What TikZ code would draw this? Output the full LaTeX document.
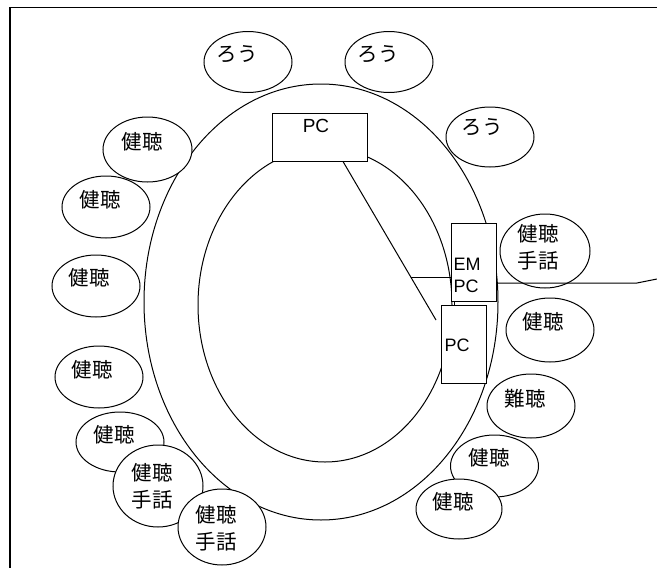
\documentclass[tikz,border=0pt]{standalone}
\usepackage{fontspec}
\setmainfont{Liberation Sans}
\newfontfamily\cjk{Noto Sans CJK JP}
\usetikzlibrary{calc}
\begin{document}
\begin{tikzpicture}[x=1pt,y=-1pt,line width=1pt,
  box/.style={draw,fill=white,rectangle,inner sep=0pt},
  jp/.style={font=\cjk\fontsize{20.5}{27}\selectfont,inner sep=0pt,align=center},
  en/.style={font=\fontsize{19}{24}\selectfont,inner sep=0pt},
  person/.style={draw,fill=white}]
\useasboundingbox (0,0) rectangle (657,568);
\fill[white] (0,0) rectangle (657,568);
% frame
\draw[line width=1.3pt] (10,568) -- (10,7.5) -- (657,7.5);
% table rings
\draw (321,302) ellipse [x radius=177pt, y radius=218pt];
\draw (325,305) ellipse [x radius=127pt, y radius=157pt];
% computers
\node[box,minimum width=95pt,minimum height=48pt] (pc1) at (319.5,137) {};
\node[en] (pc1t) at (316,125.5) {PC};
\node[box,minimum width=45pt,minimum height=78pt] (empc) at (473.5,262) {};
\node[en,anchor=west,font=\fontsize{18}{24}\selectfont] (emt) at (453,264) {EM};
\node[en,anchor=west,font=\fontsize{18}{24}\selectfont] (empct) at (453,286) {PC};
\node[box,minimum width=45pt,minimum height=78pt] (pc2) at (463.5,344) {};
\node[en,font=\fontsize{18}{24}\selectfont] (pc2t) at (457,345) {PC};
% cables
\coordinate (dtop) at ([xshift=23.5pt]pc1.south);
\coordinate (dend) at (436,320);
\coordinate (dmid) at ($(dtop)!0.7296!(dend)$);
\draw (dtop) -- (dend);
\draw (dmid) -- (dmid -| empc.west);
\draw ([xshift=-19.5pt]empc.south) -- ([xshift=-9.5pt]pc2.north);
% people
\draw[person] (248,62) ellipse [x radius=44pt, y radius=30.5pt];
\node[jp] (r1) at (237,54) {ろう};
\draw[person] (389,62) ellipse [x radius=44pt, y radius=30.5pt];
\node[jp] (r2) at (378,54) {ろう};
\draw[person] (490,137) ellipse [x radius=44pt, y radius=30pt];
\node[jp] (r3) at (482,127) {ろう};
\draw[person] (147.5,149.5) ellipse [x radius=44.5pt, y radius=32.5pt];
\node[jp] (k0) at (142,142) {健聴};
\draw[person] (106,207) ellipse [x radius=44pt, y radius=31pt];
\node[jp] (ka) at (100,200) {健聴};
\draw[person] (96,286) ellipse [x radius=44pt, y radius=31pt];
\node[jp] (kb) at (89,278) {健聴};
\draw[person] (99,377) ellipse [x radius=44pt, y radius=31pt];
\node[jp] (kc) at (92,370) {健聴};
\draw[person] (120,442) ellipse [x radius=44pt, y radius=30pt];
\node[jp] (kd) at (114,435) {健聴};
\draw[person] (158,486) ellipse [x radius=45pt, y radius=41pt];
\node[jp] (ke) at (152,486) {健聴\\手話};
\draw[person] (222,527) ellipse [x radius=44pt, y radius=38pt];
\node[jp] (kf) at (216,528.5) {健聴\\手話};
\draw[person] (545,251) ellipse [x radius=45pt, y radius=37pt];
\node[jp] (kr) at (538,247.5) {健聴\\手話};
\draw[person] (550,330) ellipse [x radius=44pt, y radius=32pt];
\node[jp] (kr2) at (543,322) {健聴};
\draw[person] (531,406) ellipse [x radius=44pt, y radius=32pt];
\node[jp] (nan) at (525,399) {難聴};
\draw[person] (494.5,466) ellipse [x radius=44pt, y radius=31pt];
\node[jp] (kl1) at (489,458) {健聴};
\draw[person] (459,509) ellipse [x radius=43pt, y radius=30pt];
\node[jp] (kl2) at (453,502) {健聴};
% outgoing cable
\coordinate (out1) at (637,283);
\coordinate (out2) at (657,279);
\draw ([yshift=-21pt]empc.east) -- (out1) -- (out2);
\end{tikzpicture}
\end{document}
